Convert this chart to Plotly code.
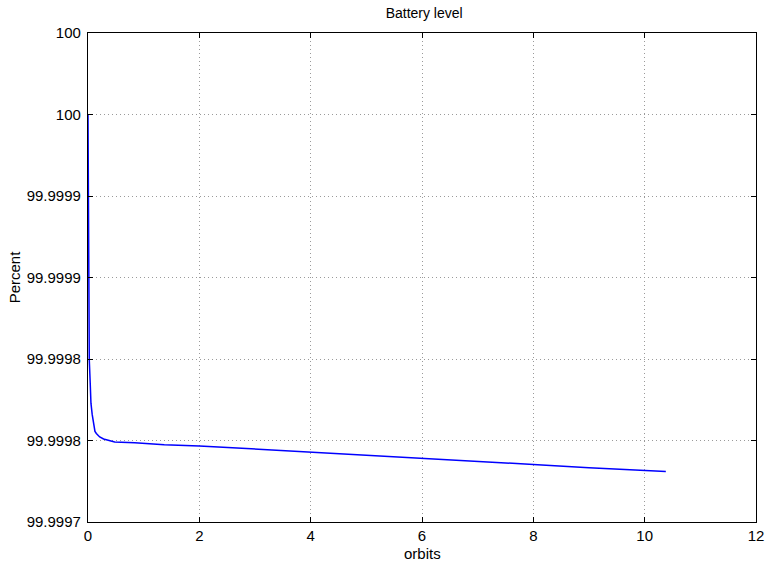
import plotly.graph_objects as go

# Battery state of charge over the simulated orbits
orbits = [0.0, 0.005, 0.01, 0.023, 0.04, 0.053, 0.075, 0.094, 0.11, 0.125, 0.15,
          0.18, 0.21, 0.28, 0.35, 0.48, 0.84, 1.37, 2.0, 3.0, 4.0, 5.0, 6.0,
          7.0, 8.0, 9.0, 10.0, 10.38]
percent = [99.99995, 99.99988, 99.99981959, 99.99979932, 99.9997850,
           99.99977291, 99.9997660, 99.99976063, 99.9997575, 99.9997556,
           99.9997543, 99.99975326, 99.9997522, 99.9997509, 99.99975018,
           99.99974914, 99.99974865, 99.99974742, 99.99974668, 99.99974484,
           99.99974300, 99.99974097, 99.99973894, 99.99973710, 99.99973526,
           99.99973329, 99.99973133, 99.99973096]

x_ticks = [0, 2, 4, 6, 8, 10, 12]
y_ticks = [99.9997, 99.99975, 99.9998, 99.99985, 99.9999, 99.99995, 100.0]
y_tick_labels = ["99.9997", "99.9998", "99.9998", "99.9999", "99.9999", "100", "100"]

font_family = "Liberation Sans, Arial, sans-serif"

fig = go.Figure()
fig.add_trace(go.Scatter(
    x=orbits, y=percent, mode="lines",
    line=dict(color="#0000ff", width=1.5),
    showlegend=False,
))

axis_common = dict(
    showline=True, linecolor="black", linewidth=1.2, mirror="ticks",
    ticks="inside", ticklen=5, tickcolor="black", tickwidth=1,
    showgrid=True, gridcolor="#9a9a9a", gridwidth=1, griddash="1px,3px",
    zeroline=False,
    tickfont=dict(family=font_family, size=15, color="black"),
)

fig.update_layout(
    width=776, height=563,
    margin=dict(l=88, r=15, t=33, b=41),
    paper_bgcolor="white", plot_bgcolor="white",
    title=dict(text="Battery level", x=0.5466, xanchor="center",
               y=1 - 13 / 563, yanchor="middle",
               font=dict(family=font_family, size=14, color="black")),
    xaxis=dict(
        range=[0, 12], tickvals=x_ticks, ticktext=[str(t) for t in x_ticks],
        **axis_common,
    ),
    yaxis=dict(
        range=[99.9997, 100.0], tickvals=y_ticks, ticktext=y_tick_labels,
        ticklabelstandoff=3,
        title=dict(text="Percent", standoff=2,
                   font=dict(family=font_family, size=15, color="black")),
        **axis_common,
    ),
    annotations=[dict(
        text="orbits", xref="paper", yref="paper", x=0.5, y=-31 / 489,
        xanchor="center", yanchor="middle", showarrow=False,
        font=dict(family=font_family, size=15, color="black"),
    )],
)

fig.write_html("out.html")
